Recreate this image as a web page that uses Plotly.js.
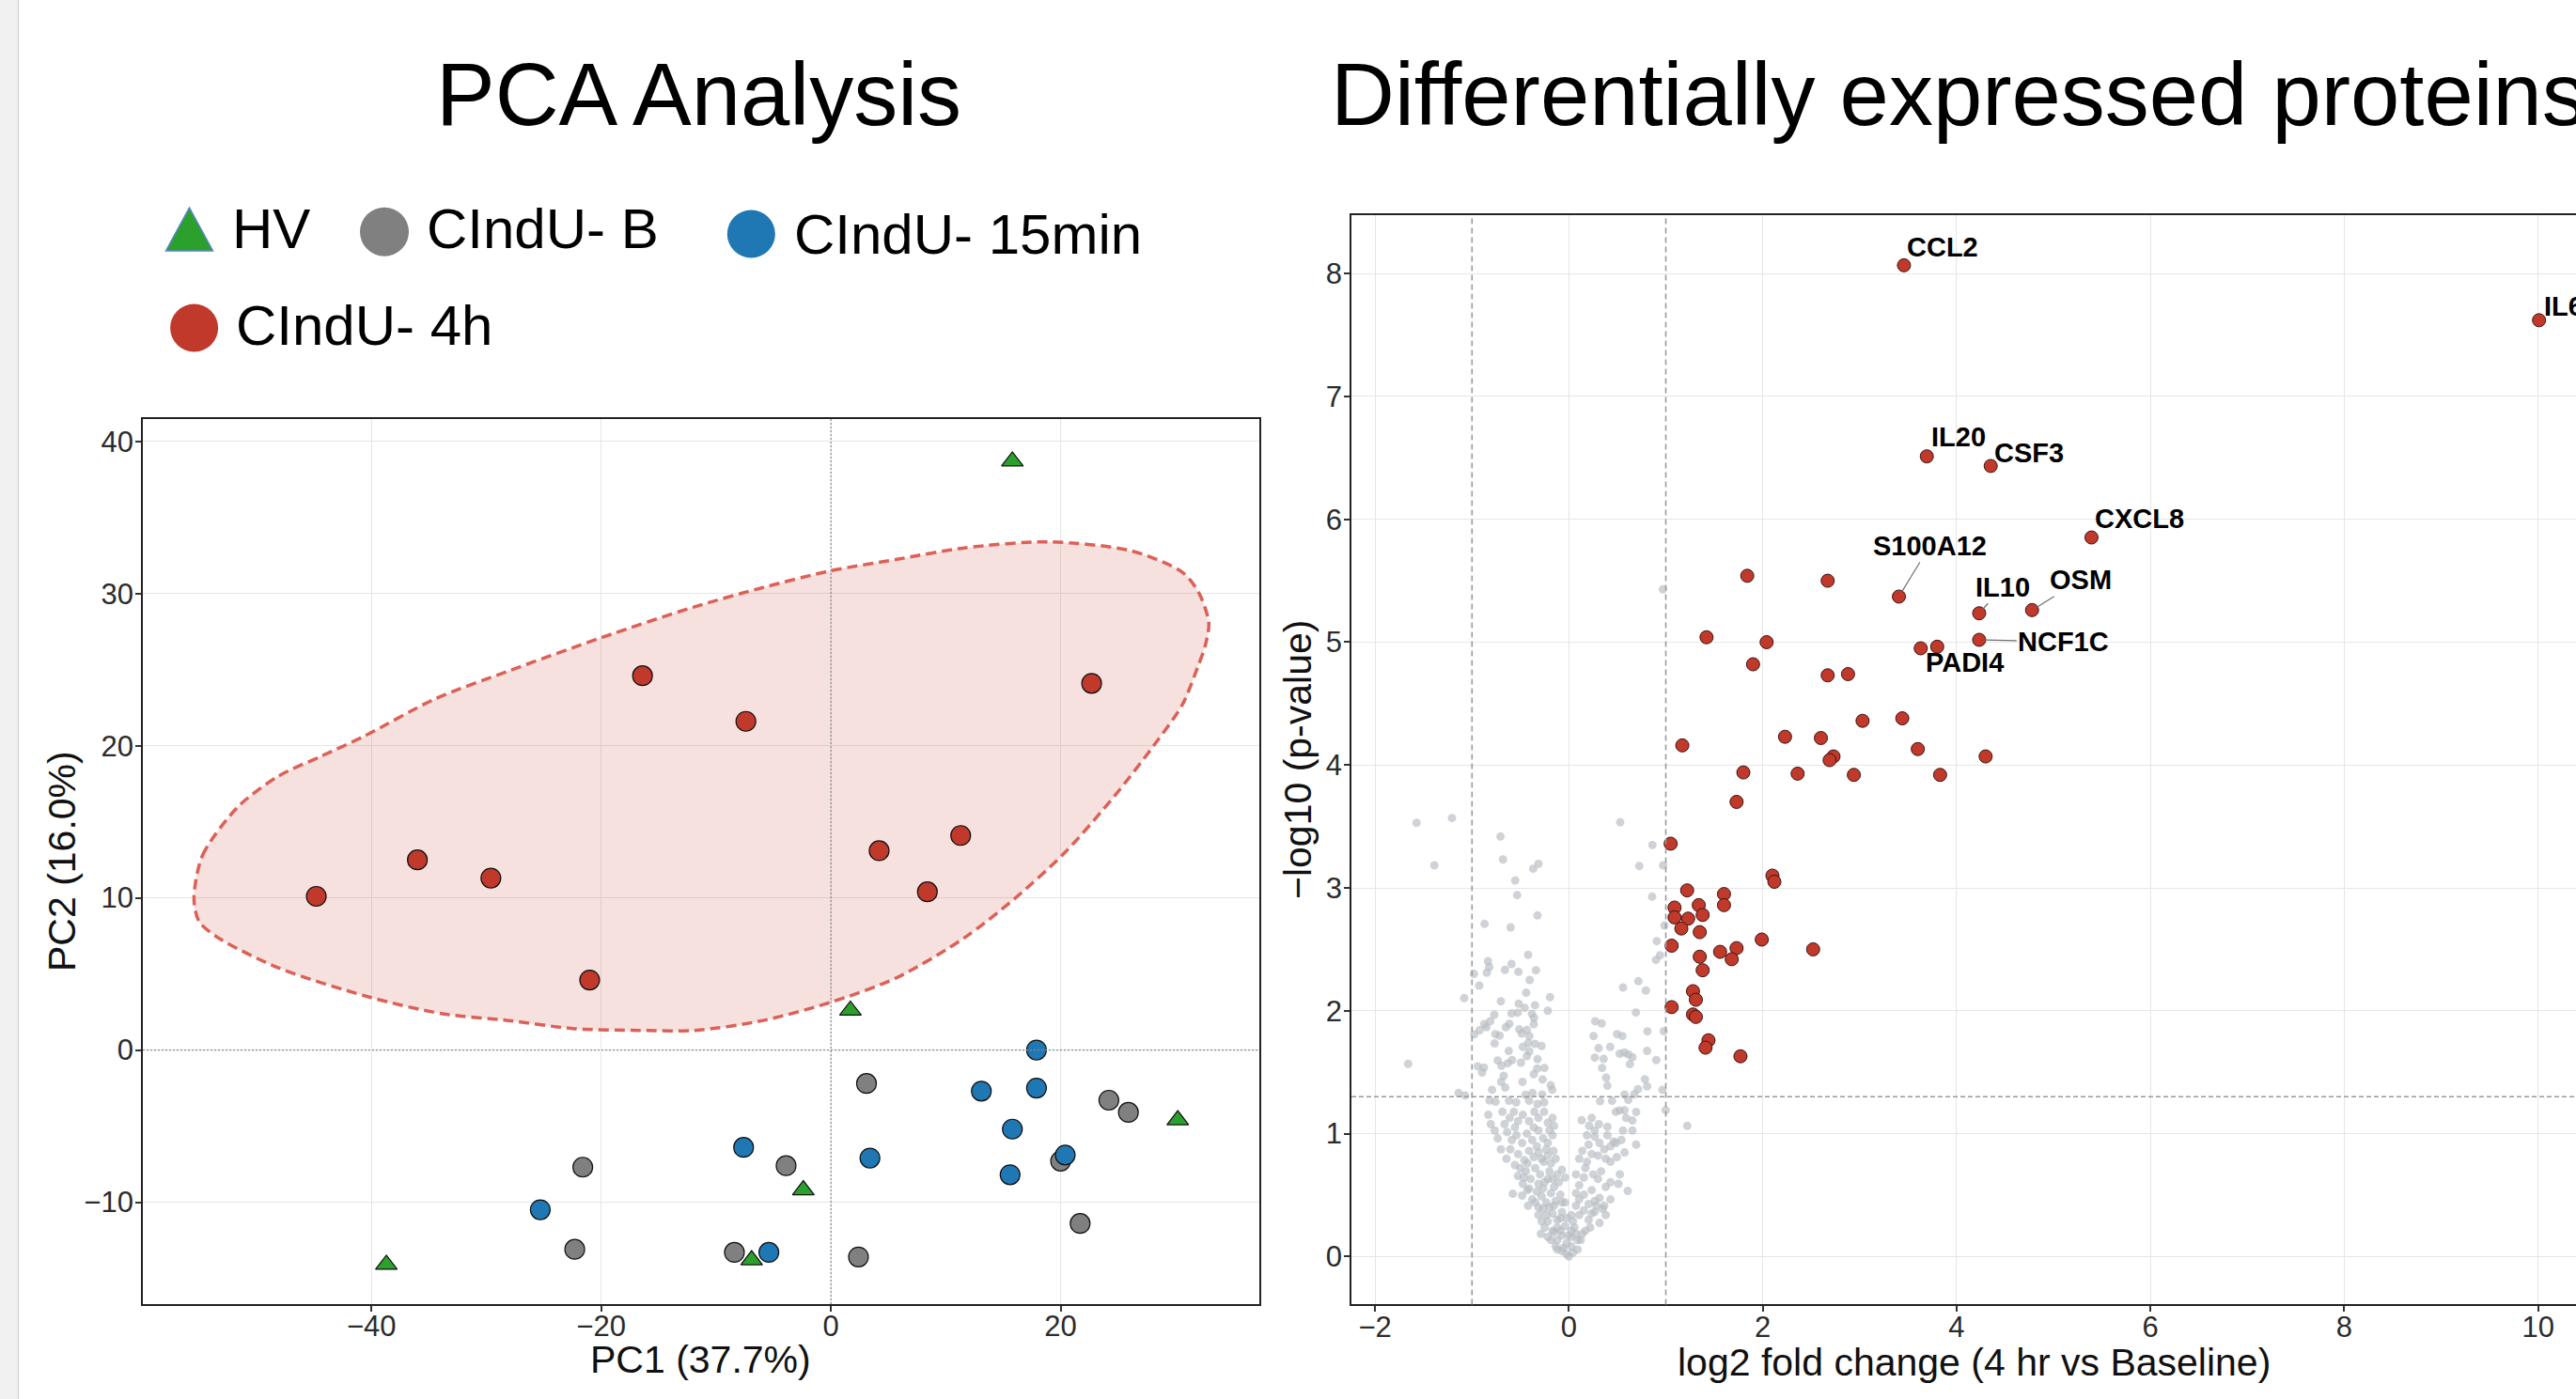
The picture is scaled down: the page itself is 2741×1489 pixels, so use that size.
<!DOCTYPE html>
<html><head><meta charset="utf-8">
<script src="https://cdn.plot.ly/plotly-3.0.1.min.js"></script>
<style>html,body{margin:0;padding:0;overflow:hidden;background:#fff;width:2741px;height:1489px}#chart{width:2800px;height:1489px}</style>
</head><body><div id="chart"></div><script>
// ---------------- DATA ----------------
const groups = ['HV', 'CIndU- B', 'CIndU- 15min', 'CIndU- 4h'];

// PCA scores (PC1, PC2) per group
const hvPC1 = [15.8, 1.7, 30.2, -2.4, -38.7, -6.9];
const hvPC2 = [38.7, 2.6, -4.6, -9.2, -14.1, -13.8];
const basePC1 = [3.1, 24.2, 25.9, -21.6, -3.9, 20.0, 21.7, -22.3, -8.4, 2.4];
const basePC2 = [-2.2, -3.3, -4.1, -7.7, -7.6, -7.3, -11.4, -13.1, -13.3, -13.6];
const m15PC1 = [17.9, 13.1, 17.9, 15.8, -7.6, 3.4, 20.4, 15.6, -25.3, -5.4];
const m15PC2 = [0.0, -2.7, -2.5, -5.2, -6.4, -7.1, -6.9, -8.2, -10.5, -13.3];
const h4PC1 = [-44.8, -36.0, -29.6, -21.0, -16.4, -7.4, 4.2, 8.4, 11.3, 22.7];
const h4PC2 = [10.1, 12.5, 11.3, 4.6, 24.6, 21.6, 13.1, 10.4, 14.1, 24.1];

// 4h group region outline (PC1, PC2)
const regionPC1 = [-55.45, -54.7, -51.6, -48.1, -44.4, -40.7, -34.4, -28.1, -20.0, -12.0, -5.9, 0.0, 5.75, 11.6, 18.9, 26.2, 30.6, 32.0, 32.9, 32.6, 32.0, 30.6, 28.2, 24.7, 20.4, 16.0, 11.6, 5.75, 0.0, -5.9, -11.8, -16.6, -22.3, -28.1, -33.8, -40.1, -48.1, -53.3, -55.0];
const regionPC2 = [9.95, 12.8, 16.0, 18.0, 19.3, 20.6, 23.1, 24.9, 27.1, 29.1, 30.4, 31.5, 32.25, 33.0, 33.4, 32.8, 31.4, 30.1, 28.1, 26.6, 25.3, 22.7, 20.1, 16.7, 13.0, 9.95, 7.36, 4.76, 3.14, 1.94, 1.29, 1.29, 1.40, 1.94, 2.38, 3.46, 5.4, 7.36, 8.44];

// Volcano: not significant proteins (log2FC, -log10 p)
const nsLFC = [
-1.572,-1.207,-1.388,0.529,-0.706,-0.680,-0.314,-0.369,-0.554,-0.534,0.862,0.726,0.972,0.859,-0.324,-0.870,-0.602,0.985,0.907,-0.421,
-0.835,-0.822,-0.848,-0.660,-0.592,-0.521,-0.340,0.940,0.898,-0.980,-0.925,-0.405,-1.080,-0.441,-0.195,-0.702,0.558,0.717,0.794,-0.218,
0.691,-0.350,-0.518,-0.592,-0.528,-0.457,-0.382,-0.360,-0.770,-0.812,-0.874,-0.851,-0.922,-0.977,-0.363,-0.615,-0.651,-0.512,-0.434,-0.408,
-0.715,-0.760,-0.486,0.271,0.338,0.254,0.497,0.552,0.810,0.978,0.306,0.426,0.523,0.571,0.613,0.655,0.629,0.807,0.901,0.267,
0.358,0.342,0.384,0.397,0.784,0.807,0.965,0.713,-0.767,-0.621,-0.476,-0.421,-0.350,-0.282,-0.408,-0.434,-0.324,-1.659,-0.941,-0.877,
-0.896,-0.735,-0.696,-0.631,-0.586,-0.495,-0.327,-0.253,-0.363,-0.272,-0.673,-0.699,-0.657,-0.479,-0.188,-0.172,-0.793,-1.138,-1.071,-0.376,
-0.447,-0.276,0.574,0.674,0.322,0.445,0.613,-0.819,-0.757,-0.618,-0.544,-0.411,-0.324,-0.256,0.998,0.523,0.694,0.574,1.221,0.97,
-0.832,-0.806,-0.686,-0.664,-0.612,-0.567,-0.525,-0.476,-0.411,-0.356,-0.314,-0.256,-0.218,-0.169,-0.153,0.132,0.235,0.209,0.309,0.397,
0.484,0.590,0.655,-0.735,-0.638,-0.589,-0.541,-0.483,-0.434,-0.379,-0.314,-0.266,-0.218,-0.169,0.186,0.267,0.203,0.316,0.397,0.461,
0.558,0.655,0.694,0.487,-0.644,-0.605,-0.525,-0.460,-0.411,-0.363,-0.314,-0.260,-0.218,-0.159,0.235,0.300,0.380,0.429,0.494,0.574,
0.138,-0.525,-0.476,-0.444,-0.395,-0.347,-0.298,-0.250,-0.201,-0.169,-0.121,-0.072,0.170,0.154,0.251,0.300,0.332,0.380,0.526,0.510,
0.607,0.106,-0.579,-0.483,-0.428,-0.379,-0.331,-0.282,-0.234,-0.185,-0.137,-0.088,-0.421,0.106,0.154,0.203,0.267,0.316,0.364,0.073,
-0.314,-0.266,-0.218,-0.169,-0.121,-0.072,-0.024,0.041,0.106,0.154,0.203,0.267,0.316,0.380,0.348,-0.289,-0.218,-0.169,-0.121,-0.072,
-0.024,0.025,0.073,0.122,0.170,0.057,-0.121,-0.056,-0.024,0.000,0.041,0.090,0.025,
-0.766,-0.702,-0.557,-0.502,-0.428,-0.331,-0.282,-0.234,-0.185,-0.137,-0.201,-0.363,-0.557,-0.465,-0.411,-0.314,-0.266,-0.218,-0.153,-0.104,
-0.040,-0.347,-0.314,-0.201,-0.153,-0.040,-0.040,-0.088,-0.250,-0.185,-0.137,-0.072,0.090,0.138,0.219,0.235,0.283,0.429,0.429,0.235,
0.186,0.364,0.429,0.542,0.267,0.106,0.073,0.073,0.025,-0.072,0.025,-0.007,-0.088,-0.121,-0.153,-0.234,-0.282];
const nsLogP = [
3.530,3.569,3.184,3.535,3.418,3.232,3.196,3.156,3.061,2.942,3.349,3.179,3.184,2.929,2.776,2.707,2.679,2.694,2.567,2.455,
2.404,2.356,2.310,2.333,2.381,2.317,2.330,2.452,2.414,2.300,2.205,2.251,2.103,2.147,2.111,2.078,2.190,2.241,2.165,2.001,
1.986,2.045,2.058,1.979,1.984,2.024,1.976,1.943,1.968,1.915,1.892,1.866,1.841,1.808,1.892,1.894,1.866,1.849,1.843,1.795,
1.798,1.810,1.815,1.915,1.897,1.795,1.810,1.795,1.833,1.833,1.696,1.706,1.650,1.660,1.645,1.622,1.566,1.673,1.599,1.619,
1.609,1.535,1.456,1.390,1.443,1.385,1.357,1.362,1.734,1.673,1.706,1.739,1.731,1.714,1.670,1.632,1.607,1.568,1.548,1.538,
1.497,1.596,1.553,1.573,1.599,1.578,1.530,1.535,1.484,1.441,1.471,1.421,1.375,1.421,1.395,1.357,1.357,1.331,1.311,1.331,
1.316,1.319,1.319,1.321,1.265,1.268,1.275,1.270,1.260,1.268,1.255,1.268,1.242,1.255,1.191,1.189,1.176,1.191,1.064,5.43,
1.153,1.077,1.178,1.077,1.128,1.178,1.102,1.153,1.102,1.178,1.128,1.178,1.089,1.128,1.064,1.110,1.128,1.064,1.077,1.056,
1.178,1.128,1.107,0.962,1.013,0.949,0.987,0.924,1.000,0.949,1.026,0.962,0.924,0.987,0.987,0.975,0.911,0.924,0.987,0.936,
1.026,1.026,0.911,0.924,0.796,0.873,0.834,0.784,0.860,0.809,0.847,0.771,0.822,0.860,0.834,0.822,0.796,0.771,0.809,0.847,
0.860,0.656,0.592,0.694,0.631,0.720,0.669,0.605,0.694,0.631,0.669,0.707,0.720,0.643,0.669,0.631,0.694,0.567,0.669,0.592,
0.534,0.580,0.511,0.496,0.541,0.465,0.529,0.490,0.440,0.516,0.452,0.503,0.414,0.465,0.503,0.427,0.452,0.478,0.414,0.414,
0.338,0.389,0.287,0.350,0.299,0.363,0.312,0.287,0.338,0.376,0.299,0.363,0.274,0.338,0.389,0.185,0.159,0.210,0.134,0.172,
0.108,0.159,0.185,0.134,0.210,0.236,0.057,0.070,0.019,0.000,0.032,0.057,0.083,
1.026,0.873,0.745,0.720,0.758,0.898,0.796,0.873,0.758,0.796,1.026,1.051,1.051,0.643,0.554,0.592,0.554,0.631,0.567,0.605,
0.643,0.440,0.401,0.401,0.414,0.440,0.248,0.210,0.236,0.134,0.083,0.045,0.134,0.185,0.236,0.350,0.414,0.465,0.605,0.541,
0.771,0.873,0.898,0.949,1.026,0.796,0.669,0.516,0.338,0.440,0.210,0.172,0.312,0.236,0.198,0.338,0.287];

// Volcano: significant, unlabelled proteins
const sigLFC = [1.84,2.67,1.42,2.04,1.90,2.67,2.88,3.63,3.44,3.03,2.23,2.60,1.17,3.60,2.73,2.69,4.30,1.80,2.36,2.94,
3.83,1.73,1.05,2.10,2.12,1.22,1.60,1.09,1.34,1.60,1.38,1.09,1.23,1.16,1.35,1.99,1.06,1.73,1.56,2.52,
1.68,1.35,1.38,1.28,1.31,1.06,1.28,1.31,1.44,1.41,1.77];
const sigLogP = [5.54,5.50,5.04,5.00,4.82,4.73,4.74,4.95,4.38,4.36,4.23,4.22,4.16,4.13,4.07,4.04,4.07,3.94,3.93,3.92,
3.92,3.70,3.36,3.10,3.05,2.98,2.95,2.84,2.86,2.86,2.78,2.76,2.75,2.67,2.64,2.58,2.53,2.51,2.48,2.50,
2.42,2.44,2.33,2.16,2.09,2.03,1.97,1.95,1.76,1.70,1.63];

// Volcano: labelled proteins
const labGene = ['CCL2', 'IL6', 'IL20', 'CSF3', 'CXCL8', 'S100A12', 'IL10', 'OSM', 'NCF1C', 'PADI4'];
const labLFC  = [3.457, 10.01, 3.693, 4.352, 5.392, 3.405, 4.233, 4.779, 4.233, 3.80];
const labLogP = [8.067, 7.62, 6.512, 6.434, 5.852, 5.371, 5.235, 5.261, 5.019, 4.963];

// thresholds
const fcCut = [-1, 1];
const pCut = 0.05;

// axis / panel titles
const pcaTitle = 'PCA Analysis';
const volcanoTitle = 'Differentially expressed proteins';
const pc1Title = 'PC1 (37.7%)';
const pc2Title = 'PC2 (16.0%)';
const lfcTitle = 'log2 fold change (4 hr vs Baseline)';
const pTitle = '\u2212log10 (p-value)';

// ---------------- STYLE / LAYOUT ----------------
const W = 2800, H = 1489;
const px = v => v / W, py = v => 1 - v / H;
const FONT = 'Liberation Sans, Arial, Helvetica, sans-serif';
const groupColor = ['#2ca02c', '#808080', '#1f77b4', '#c0392b'];
const groupSymbol = ['triangle-up', 'circle', 'circle', 'circle'];
const pcaX = [hvPC1, basePC1, m15PC1, h4PC1];
const pcaY = [hvPC2, basePC2, m15PC2, h4PC2];

const traces = [];
traces.push({
  type: 'scatter', mode: 'lines', xaxis: 'x', yaxis: 'y', showlegend: false, hoverinfo: 'skip',
  x: regionPC1.concat([regionPC1[0]]), y: regionPC2.concat([regionPC2[0]]),
  fill: 'toself', fillcolor: 'rgba(192,57,43,0.15)',
  line: {shape: 'spline', smoothing: 0.8, color: 'rgba(218,88,78,0.95)', width: 3.5, dash: '11px,6px'}
});
groups.forEach((g, i) => {
  traces.push({
    type: 'scatter', mode: 'markers', name: g, xaxis: 'x', yaxis: 'y', showlegend: false,
    x: pcaX[i], y: pcaY[i],
    marker: {symbol: groupSymbol[i], size: groupSymbol[i] === 'circle' ? 21 : 20, color: groupColor[i], line: {color: '#111', width: 1.2}}
  });
});
traces.push({
  type: 'scatter', mode: 'markers', xaxis: 'x2', yaxis: 'y2', showlegend: false, name: 'NS',
  x: nsLFC, y: nsLogP, marker: {size: 9, color: '#b5bcc1', opacity: 0.65}
});
traces.push({
  type: 'scatter', mode: 'markers', xaxis: 'x2', yaxis: 'y2', showlegend: false, name: 'Up',
  x: sigLFC.concat(labLFC), y: sigLogP.concat(labLogP),
  marker: {size: 14, color: '#c0392b', line: {color: '#3a1512', width: 1}}
});

const tickFont = {family: FONT, size: 31, color: '#2b2b2b'};
const titleFont = {family: FONT, size: 41, color: '#111'};
const axCommon = {
  showgrid: true, gridcolor: '#e6e6e6', gridwidth: 1, zeroline: false,
  showline: true, mirror: true, linecolor: '#222', linewidth: 1.8,
  ticks: 'outside', ticklen: 6, tickcolor: '#333', tickwidth: 1.5, tickfont: tickFont
};
const xAx = Object.assign({}, axCommon, {ticklabelstandoff: -11});
const yAx = Object.assign({}, axCommon, {ticklabelstandoff: -4});

const shapes = [
  // left window strip
  {type: 'rect', xref: 'paper', yref: 'paper', x0: 0, x1: px(19), y0: 0, y1: 1, fillcolor: '#f1f1f1', line: {width: 0}, layer: 'below'},
  {type: 'line', xref: 'paper', yref: 'paper', x0: px(19.5), x1: px(19.5), y0: 0, y1: 1, line: {color: '#d6d6d6', width: 1.5}},
  // PCA zero lines
  {type: 'line', xref: 'x', yref: 'y domain', x0: 0, x1: 0, y0: 0, y1: 1, line: {color: '#8a8a8a', width: 1.2, dash: '2px,2px'}},
  {type: 'line', xref: 'x domain', yref: 'y', x0: 0, x1: 1, y0: 0, y1: 0, line: {color: '#8a8a8a', width: 1.2, dash: '2px,2px'}},
  // volcano thresholds
  ...fcCut.map(v => ({type: 'line', xref: 'x2', yref: 'y2 domain', x0: v, x1: v, y0: 0, y1: 1, line: {color: '#9a9a9a', width: 1.6, dash: '6px,4px'}})),
  {type: 'line', xref: 'x2 domain', yref: 'y2', x0: 0, x1: 1, y0: -Math.log10(pCut), y1: -Math.log10(pCut), line: {color: '#9a9a9a', width: 1.4, dash: '5px,3px'}}
];

// custom legend (glyph positions in px)
const legGlyph = [
  {cx: 201.5, cy: 244, r: 25},
  {cx: 409, cy: 246.7, r: 26},
  {cx: 799.3, cy: 249, r: 25.5},
  {cx: 206.6, cy: 349, r: 25.5}
];
const legText = [[245, 244], [452, 244], [843, 249], [249, 346]];
const annotations = [];
groups.forEach((g, i) => {
  const s = legGlyph[i];
  if (groupSymbol[i] === 'triangle-up') {
    shapes.push({type: 'path', xref: 'paper', yref: 'paper',
      path: `M ${px(s.cx - s.r)} ${py(s.cy + 23)} L ${px(s.cx)} ${py(s.cy - 23)} L ${px(s.cx + s.r)} ${py(s.cy + 23)} Z`,
      fillcolor: groupColor[i], line: {color: '#5a86c8', width: 1.5}});
  } else {
    shapes.push({type: 'circle', xref: 'paper', yref: 'paper',
      x0: px(s.cx - s.r), x1: px(s.cx + s.r), y0: py(s.cy + s.r), y1: py(s.cy - s.r),
      fillcolor: groupColor[i], line: {width: 0}});
  }
  annotations.push({xref: 'paper', yref: 'paper', x: px(legText[i][0]), y: py(legText[i][1]),
    xanchor: 'left', yanchor: 'middle', showarrow: false, text: g,
    font: {family: FONT, size: 60, color: '#000'}});
});

// panel titles
annotations.push({xref: 'paper', yref: 'paper', x: px(743), y: py(100), xanchor: 'center', yanchor: 'middle',
  showarrow: false, text: pcaTitle, font: {family: FONT, size: 94, color: '#000'}});
annotations.push({xref: 'paper', yref: 'paper', x: px(1414), y: py(100), xanchor: 'left', yanchor: 'middle',
  showarrow: false, text: volcanoTitle, font: {family: FONT, size: 94, color: '#000'}});

// axis titles
annotations.push({xref: 'paper', yref: 'paper', x: px(746), y: py(1447), xanchor: 'center', yanchor: 'middle',
  showarrow: false, text: pc1Title, font: titleFont});
annotations.push({xref: 'paper', yref: 'paper', x: px(66), y: py(917), xanchor: 'center', yanchor: 'middle',
  showarrow: false, text: pc2Title, font: titleFont, textangle: -90});
annotations.push({xref: 'paper', yref: 'paper', x: px(2100), y: py(1450), xanchor: 'center', yanchor: 'middle',
  showarrow: false, text: lfcTitle, font: titleFont});
annotations.push({xref: 'paper', yref: 'paper', x: px(1381), y: py(809), xanchor: 'center', yanchor: 'middle',
  showarrow: false, text: pTitle, font: titleFont, textangle: -90});

// volcano gene labels
const labPlace = {
  CCL2: {dx: 1, dy: -19}, IL6: {dx: 3, dy: -15}, IL20: {dx: 3, dy: -21}, CSF3: {dx: 2, dy: -14}, CXCL8: {dx: 2, dy: -20},
  S100A12: {ax: 33, ay: -54}, IL10: {ax: 25, ay: -28}, OSM: {ax: 52, ay: -32}, NCF1C: {ax: 90, ay: 2}, PADI4: {ax: 29, ay: 17}
};
const labFont = {family: FONT, size: 29, color: '#000', weight: 'bold'};
labGene.forEach((g, i) => {
  const p = labPlace[g];
  if (p.ax !== undefined) {
    annotations.push({xref: 'x2', yref: 'y2', x: labLFC[i], y: labLogP[i], text: '<b>' + g + '</b>', font: labFont,
      showarrow: true, arrowhead: 0, arrowwidth: 1.2, arrowcolor: '#6e6e6e', ax: p.ax, ay: p.ay, standoff: 6});
  } else {
    annotations.push({xref: 'x2', yref: 'y2', x: labLFC[i], y: labLogP[i], text: '<b>' + g + '</b>', font: labFont,
      showarrow: false, xanchor: 'left', yanchor: 'middle', xshift: p.dx, yshift: -p.dy});
  }
});

const layout = {
  width: W, height: H, margin: {l: 0, r: 0, t: 0, b: 0, pad: 0},
  paper_bgcolor: '#fff', plot_bgcolor: '#fff', showlegend: false,
  font: {family: FONT},
  xaxis: Object.assign({}, xAx, {domain: [px(152), px(1340)], anchor: 'y', range: [-59.9, 37.3], dtick: 20, tick0: 0}),
  yaxis: Object.assign({}, yAx, {domain: [py(1388), py(446)], anchor: 'x', range: [-16.7, 41.47], dtick: 10, tick0: 0}),
  xaxis2: Object.assign({}, xAx, {domain: [px(1438), px(2762)], anchor: 'y2', range: [-2.244, 10.595], dtick: 2, tick0: 0}),
  yaxis2: Object.assign({}, yAx, {domain: [py(1388.4), py(229)], anchor: 'x2', range: [-0.39, 8.475], dtick: 1, tick0: 0}),
  shapes: shapes, annotations: annotations
};

Plotly.newPlot('chart', traces, layout, {displayModeBar: false, responsive: false});
</script></body></html>
